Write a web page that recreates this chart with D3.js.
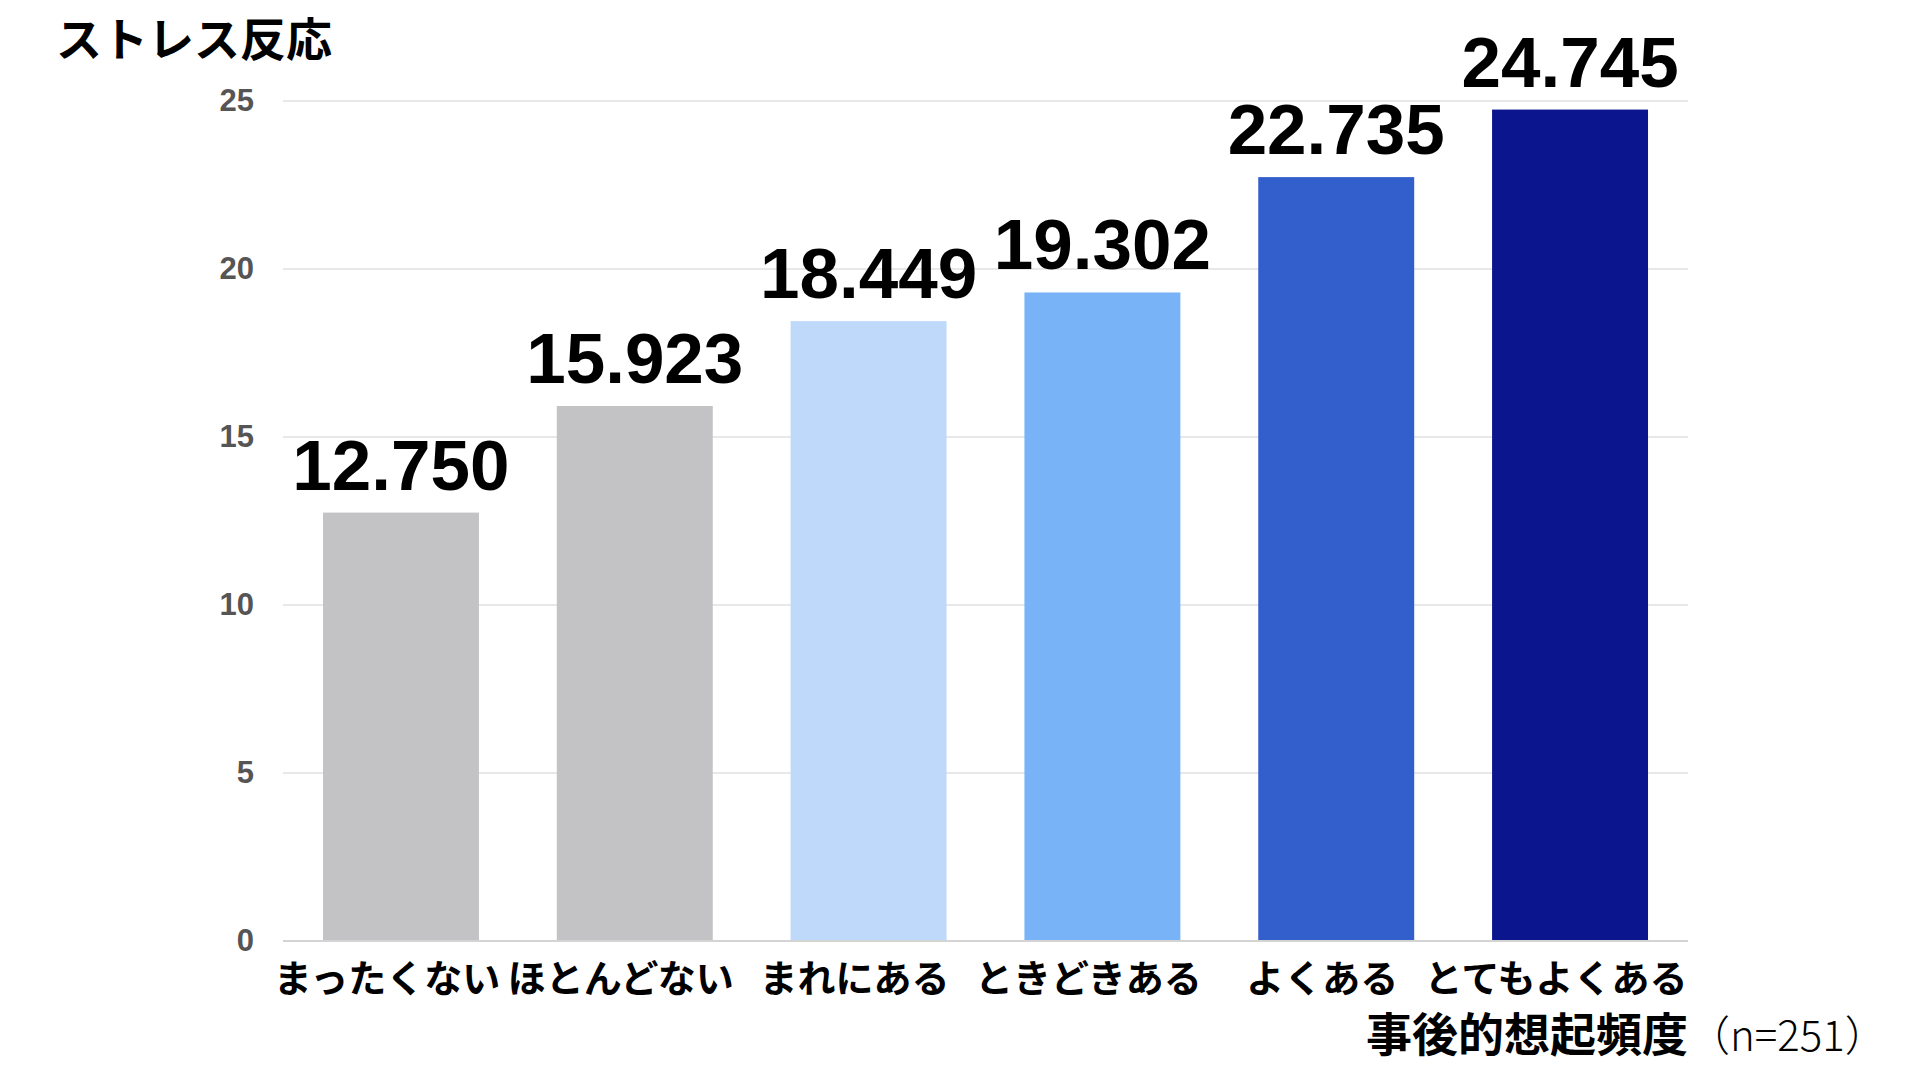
<!DOCTYPE html>
<html>
<head>
<meta charset="utf-8">
<script src="https://cdn.jsdelivr.net/npm/d3@7"></script>
<style>
  body { margin: 0; background: #fff; }
  .jp { font-family: "Noto Sans CJK JP", "Noto Sans", sans-serif; }
  .num { font-family: "Liberation Sans", Arial, sans-serif; }
</style>
</head>
<body>
<div id="chart"></div>
<script>
var categories = ["まったくない", "ほとんどない", "まれにある", "ときどきある", "よくある", "とてもよくある"];
var values = [12.750, 15.923, 18.449, 19.302, 22.735, 24.745];
var barColors = ["#c3c3c5", "#c3c3c5", "#bfd9fa", "#79b3f7", "#335fcc", "#0b168e"];
var yTicks = [0, 5, 10, 15, 20, 25];

var width = 1917,
    height = 1077;

var plotLeft = 283, plotRight = 1688, plotTop = 101, plotBottom = 941;

var svg = d3.select("#chart")
  .append("svg")
  .attr("width", width)
  .attr("height", height);

var x = d3.scaleBand()
  .domain(categories)
  .range([plotLeft, plotRight])
  .paddingInner(0.333)
  .paddingOuter(0.171);

var y = d3.scaleLinear()
  .domain([0, 25])
  .range([plotBottom, plotTop]);

// grid
svg.append("g")
  .selectAll("line")
  .data(yTicks.filter(function(d){ return d > 0; }))
  .enter().append("line")
  .attr("x1", plotLeft).attr("x2", plotRight)
  .attr("y1", function(d){ return y(d); })
  .attr("y2", function(d){ return y(d); })
  .attr("stroke", "#e8e8e8")
  .attr("stroke-width", 2);

// y axis labels
var yAxis = d3.axisLeft(y).tickValues(yTicks).tickSize(0).tickPadding(29);
svg.append("g")
  .attr("transform", "translate(" + plotLeft + ",0)")
  .call(yAxis)
  .call(function(g){ g.select(".domain").remove(); })
  .selectAll("text")
  .attr("class", "num")
  .attr("font-size", 31)
  .attr("font-weight", "bold")
  .attr("fill", "#555");

// bars
svg.append("g")
  .selectAll("rect")
  .data(values)
  .enter().append("rect")
  .attr("x", function(d, i){ return x(categories[i]); })
  .attr("width", x.bandwidth())
  .attr("y", function(d){ return y(d); })
  .attr("height", function(d){ return y(0) - y(d); })
  .attr("fill", function(d, i){ return barColors[i]; });

// baseline
svg.append("line")
  .attr("x1", plotLeft).attr("x2", plotRight)
  .attr("y1", y(0)).attr("y2", y(0))
  .attr("stroke", "#d4d4d4")
  .attr("stroke-width", 2);

// value labels
svg.append("g")
  .selectAll("text")
  .data(values)
  .enter().append("text")
  .attr("class", "num")
  .attr("x", function(d, i){ return x(categories[i]) + x.bandwidth() / 2; })
  .attr("y", function(d){ return y(d) - 23; })
  .attr("text-anchor", "middle")
  .attr("font-size", 71)
  .attr("font-weight", "bold")
  .attr("fill", "#000")
  .text(function(d){ return d3.format(".3f")(d); });

// category labels
var xAxis = d3.axisBottom(x).tickSize(0).tickPadding(0);
svg.append("g")
  .attr("transform", "translate(-14," + y(0) + ")")
  .call(xAxis)
  .call(function(g){ g.select(".domain").remove(); })
  .selectAll("text")
  .attr("class", "jp")
  .attr("dy", null)
  .attr("y", 51)
  .attr("font-size", 38)
  .attr("font-weight", "bold")
  .attr("fill", "#000");

// y title
svg.append("text")
  .attr("class", "jp")
  .attr("x", 56)
  .attr("y", 56)
  .attr("font-size", 46)
  .attr("font-weight", "bold")
  .attr("fill", "#000")
  .text("ストレス反応");

// x title
var xt = svg.append("text")
  .attr("class", "jp")
  .attr("x", 1366)
  .attr("y", 1051)
  .attr("font-size", 46)
  .attr("fill", "#000");
xt.append("tspan").attr("font-weight", "bold").text("事後的想起頻度");
xt.append("tspan").attr("font-weight", 300).attr("font-size", 42).text("（n=251）");
</script>
</body>
</html>
